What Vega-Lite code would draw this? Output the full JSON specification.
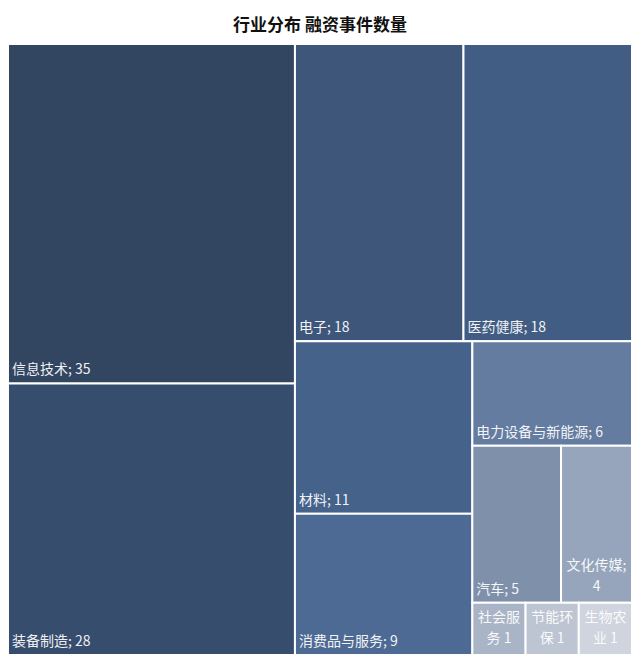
{
  "$schema": "https://vega.github.io/schema/vega-lite/v6.json",
  "width": 624,
  "height": 611,
  "autosize": {"type": "none"},
  "padding": {"left": 8, "top": 44, "right": 8, "bottom": 8},
  "background": "white",
  "config": {"view": {"stroke": null}, "font": "Noto Sans CJK SC"},
  "title": {
    "text": "行业分布 融资事件数量",
    "fontSize": 17,
    "fontWeight": "bold",
    "color": "#111111",
    "font": "Noto Sans CJK SC",
    "anchor": "middle",
    "offset": 8
  },
  "data": {
    "values": [
      {"name": "信息技术", "value": 35, "label": "信息技术; 35", "x0": 0, "x1": 0.45985, "y0": 0, "y1": 0.55556},
      {"name": "装备制造", "value": 28, "label": "装备制造; 28", "x0": 0, "x1": 0.45985, "y0": 0.55556, "y1": 1},
      {"name": "电子", "value": 18, "label": "电子; 18", "x0": 0.45985, "x1": 0.72993, "y0": 0, "y1": 0.48649},
      {"name": "医药健康", "value": 18, "label": "医药健康; 18", "x0": 0.72993, "x1": 1, "y0": 0, "y1": 0.48649},
      {"name": "材料", "value": 11, "label": "材料; 11", "x0": 0.45985, "x1": 0.74414, "y0": 0.48649, "y1": 0.76892},
      {"name": "消费品与服务", "value": 9, "label": "消费品与服务; 9", "x0": 0.45985, "x1": 0.74414, "y0": 0.76892, "y1": 1},
      {"name": "电力设备与新能源", "value": 6, "label": "电力设备与新能源; 6", "x0": 0.74414, "x1": 1, "y0": 0.48649, "y1": 0.65766},
      {"name": "汽车", "value": 5, "label": "汽车; 5", "x0": 0.74414, "x1": 0.88628, "y0": 0.65766, "y1": 0.91442},
      {"name": "文化传媒", "value": 4, "label": ["文化传媒;", "4"], "x0": 0.88628, "x1": 1, "y0": 0.65766, "y1": 0.91442},
      {"name": "社会服务", "value": 1, "label": ["社会服", "务 1"], "x0": 0.74414, "x1": 0.82943, "y0": 0.91442, "y1": 1},
      {"name": "节能环保", "value": 1, "label": ["节能环", "保 1"], "x0": 0.82943, "x1": 0.91471, "y0": 0.91442, "y1": 1},
      {"name": "生物农业", "value": 1, "label": ["生物农", "业 1"], "x0": 0.91471, "x1": 1, "y0": 0.91442, "y1": 1}
    ]
  },
  "layer": [
    {
      "mark": {"type": "rect", "stroke": "white", "strokeWidth": 2},
      "encoding": {
        "x": {"field": "x0", "type": "quantitative", "scale": {"domain": [0, 1], "nice": false}, "axis": null},
        "x2": {"field": "x1"},
        "y": {"field": "y0", "type": "quantitative", "scale": {"domain": [1, 0], "nice": false}, "axis": null},
        "y2": {"field": "y1"},
        "color": {
          "field": "name",
          "type": "nominal",
          "legend": null,
          "scale": {
            "domain": ["信息技术", "装备制造", "电子", "医药健康", "材料", "消费品与服务", "电力设备与新能源", "汽车", "文化传媒", "社会服务", "节能环保", "生物农业"],
            "range": ["#324661", "#364d6d", "#3d5679", "#415d83", "#45628b", "#4c6a93", "#647ca0", "#7f90ab", "#97a5bc", "#a9b4c6", "#bdc4d2", "#cfd4de"]
          }
        },
        "tooltip": [{"field": "name"}, {"field": "value"}]
      }
    },
    {
      "transform": [{"filter": "datum.value > 4"}],
      "mark": {"type": "text", "align": "left", "baseline": "bottom", "dx": 4, "dy": -6, "fontSize": 14, "color": "white", "opacity": 0.92},
      "encoding": {
        "x": {"field": "x0", "type": "quantitative"},
        "y": {"field": "y1", "type": "quantitative"},
        "text": {"field": "label"}
      }
    },
    {
      "transform": [{"filter": "datum.value <= 4"}, {"calculate": "(datum.x0 + datum.x1) / 2", "as": "xm"}],
      "mark": {"type": "text", "align": "center", "baseline": "bottom", "dy": -30, "fontSize": 14, "lineHeight": 21, "color": "white", "opacity": 0.92},
      "encoding": {
        "x": {"field": "xm", "type": "quantitative"},
        "y": {"field": "y1", "type": "quantitative"},
        "text": {"field": "label"}
      }
    }
  ]
}
